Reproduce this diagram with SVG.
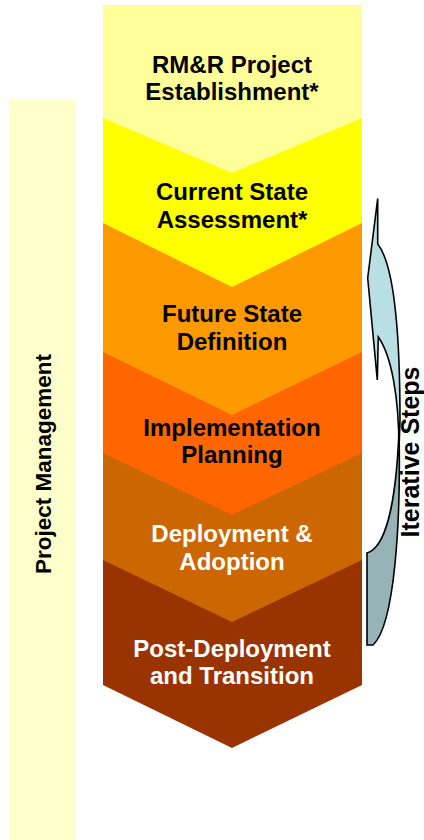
<svg xmlns="http://www.w3.org/2000/svg" width="424" height="840" viewBox="0 0 424 840">
  <style>
    .lbl { font-family: "Liberation Sans", Arial, sans-serif; font-weight: bold; font-size: 24px; text-anchor: middle; }
    .dark { fill: #000000; }
    .light { fill: #FFFFFF; }
    .arrow { stroke: #000000; stroke-width: 1.6; stroke-linejoin: miter; }
  </style>

  <!-- project management band -->
  <g id="project-management">
    <rect x="9" y="100" width="67" height="740" fill="#FFFFCC"/>
    <text class="lbl dark" style="font-size:22.5px" transform="translate(51,464) rotate(-90)">Project Management</text>
  </g>

  <!-- phase chevrons, drawn bottom-up so each one overlaps the next -->
  <g id="phase-6">
    <polygon points="103,560 362,560 362,685 232,748 103,685" fill="#993300"/>
    <text class="lbl light" x="232" y="657">Post-Deployment</text>
    <text class="lbl light" x="232" y="684">and Transition</text>
  </g>
  <g id="phase-5">
    <polygon points="103,453 362,453 362,560 232,622 103,560" fill="#CC6600"/>
    <text class="lbl light" x="232" y="542">Deployment &amp;</text>
    <text class="lbl light" x="232" y="570">Adoption</text>
  </g>
  <g id="phase-4">
    <polygon points="103,352 362,352 362,453 232,515 103,453" fill="#FF6600"/>
    <text class="lbl dark" x="232" y="436">Implementation</text>
    <text class="lbl dark" x="232" y="463">Planning</text>
  </g>
  <g id="phase-3">
    <polygon points="103,223 362,223 362,352 232,415 103,352" fill="#FF9900"/>
    <text class="lbl dark" x="232" y="322">Future State</text>
    <text class="lbl dark" x="232" y="350">Definition</text>
  </g>
  <g id="phase-2">
    <polygon points="103,118 362,118 362,223 232,287 103,223" fill="#FFFF00"/>
    <text class="lbl dark" x="232" y="200">Current State</text>
    <text class="lbl dark" x="232" y="228">Assessment*</text>
  </g>
  <g id="phase-1">
    <polygon points="103,5 362,5 362,118 232,173 103,118" fill="#FFFF99"/>
    <text class="lbl dark" x="232" y="73">RM&amp;R Project</text>
    <text class="lbl dark" x="232" y="100">Establishment*</text>
  </g>

  <!-- curved loop-back arrow -->
  <g id="connectors">
    <path class="arrow" fill="#96B4B8" d="M399,430 C401,520 395,625 373,645 L367,645 L367,553 C384,548 396,510 399,430 Z"/>
    <path class="arrow" fill="#B9DFE4" d="M377.7,198.5 L377.7,244 C392,262 400,320 400,420 L399,450 C399,395 391,355 378.3,337 L377.3,380 L367.7,278 Z"/>
  </g>

  <g id="iterative-steps">
    <text class="lbl dark" style="font-size:25px" transform="translate(419,452) rotate(-90)">Iterative Steps</text>
  </g>
</svg>
